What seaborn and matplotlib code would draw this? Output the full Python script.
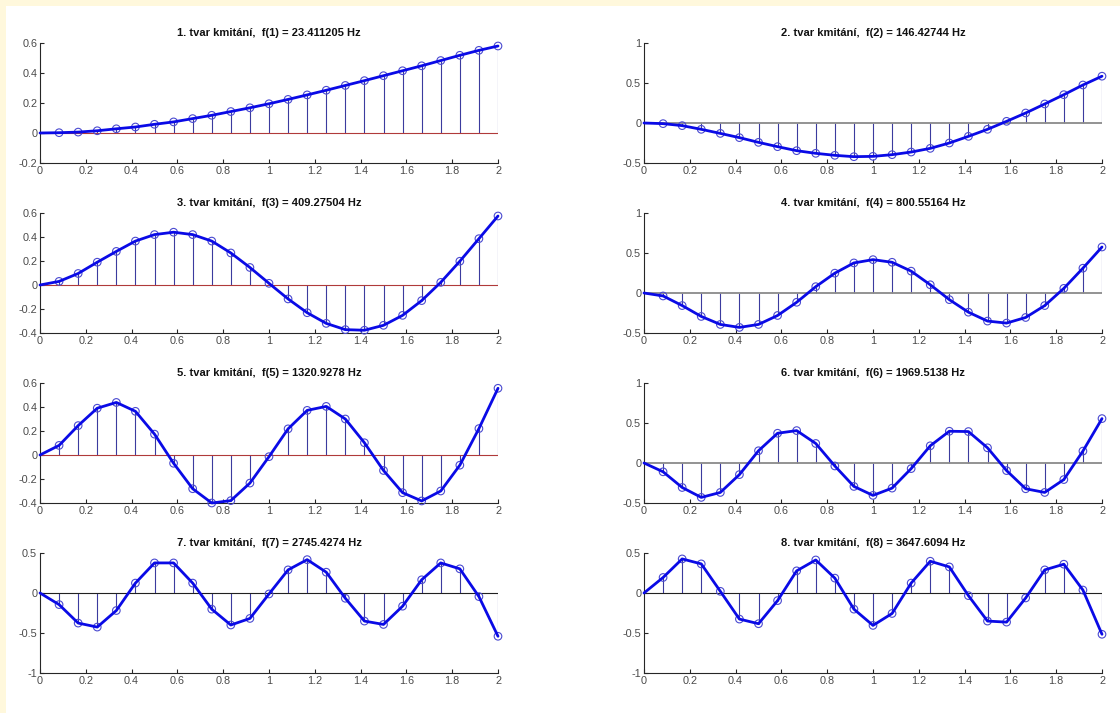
"""
Mode shapes of a cantilever beam (8 modes), drawn as stem plots
with the connecting polyline, laid out MATLAB-like in a 4x2 grid.
"""
import matplotlib.pyplot as plt
import pandas as pd
import seaborn as sns
from matplotlib.patches import Rectangle
from matplotlib.ticker import FuncFormatter, MultipleLocator

# node positions along the beam (m)
x_nodes = [0, 1 / 12, 2 / 12, 3 / 12, 4 / 12, 5 / 12, 6 / 12, 7 / 12, 8 / 12,
           9 / 12, 10 / 12, 11 / 12, 1, 13 / 12, 14 / 12, 15 / 12, 16 / 12,
           17 / 12, 18 / 12, 19 / 12, 20 / 12, 21 / 12, 22 / 12, 23 / 12, 2]

freqs = ["23.411205", "146.42744", "409.27504", "800.55164",
         "1320.9278", "1969.5138", "2745.4274", "3647.6094"]

mode1 = [0, 0.002, 0.006, 0.015, 0.028, 0.04, 0.058, 0.074, 0.096, 0.118,
         0.143, 0.168, 0.195, 0.224, 0.254, 0.285, 0.317, 0.349, 0.382,
         0.415, 0.448, 0.483, 0.518, 0.551, 0.58]
mode2 = [0, -0.008, -0.033, -0.079, -0.13, -0.183, -0.242, -0.296, -0.346,
         -0.379, -0.404, -0.421, -0.417, -0.396, -0.363, -0.317, -0.25,
         -0.167, -0.079, 0.021, 0.125, 0.238, 0.354, 0.475, 0.585]
mode3 = [0, 0.03, 0.096, 0.19, 0.28, 0.366, 0.42, 0.44, 0.42, 0.366, 0.267,
         0.146, 0.014, -0.116, -0.231, -0.32, -0.372, -0.377, -0.336,
         -0.253, -0.13, 0.022, 0.198, 0.386, 0.575]
mode4 = [0, -0.037, -0.157, -0.293, -0.393, -0.43, -0.393, -0.281, -0.116,
         0.079, 0.248, 0.376, 0.417, 0.384, 0.273, 0.103, -0.083, -0.24,
         -0.351, -0.376, -0.306, -0.157, 0.058, 0.31, 0.575]
mode5 = [0, 0.08, 0.245, 0.39, 0.438, 0.364, 0.174, -0.069, -0.281, -0.4,
         -0.38, -0.234, -0.014, 0.218, 0.372, 0.405, 0.3, 0.102, -0.129,
         -0.314, -0.383, -0.3, -0.085, 0.22, 0.556]
mode6 = [0, -0.11, -0.306, -0.43, -0.368, -0.145, 0.153, 0.372, 0.405, 0.244,
         -0.037, -0.293, -0.405, -0.314, -0.07, 0.215, 0.397, 0.393, 0.19,
         -0.095, -0.322, -0.368, -0.207, 0.149, 0.555]
mode7 = [0, -0.145, -0.376, -0.426, -0.219, 0.124, 0.376, 0.376, 0.124,
         -0.202, -0.4, -0.318, -0.012, 0.289, 0.417, 0.26, -0.066, -0.351,
         -0.393, -0.165, 0.165, 0.376, 0.302, -0.045, -0.541]
mode8 = [0, 0.194, 0.426, 0.364, 0.021, -0.326, -0.384, -0.095, 0.277, 0.413,
         0.186, -0.202, -0.405, -0.256, 0.124, 0.397, 0.326, -0.033, -0.351,
         -0.364, -0.062, 0.289, 0.36, 0.037, -0.516]

modes = [mode1, mode2, mode3, mode4, mode5, mode6, mode7, mode8]
y_limits = [(-0.2, 0.6), (-0.5, 1), (-0.4, 0.6), (-0.5, 1),
            (-0.4, 0.6), (-0.5, 1), (-1, 0.5), (-1, 0.5)]

# MATLAB-ish look
LINE_BLUE = "#0a0ae6"
STEM_BLUE = "#3b3b9e"
MARKER_BLUE = "#4a4ad0"
AXIS_GRAY = "#262626"
LABEL_GRAY = "#4a4a4a"
BASELINES = {
    "red": dict(color="#b03a3a", lw=0.8),
    "gray": dict(color="#8a8a8a", lw=1.3),
    "dark": dict(color="#202020", lw=0.8),
}
baseline_kind = ["red", "gray", "red", "gray", "red", "gray", "dark", "dark"]


def axes_rect(idx: int) -> list[float]:
    """Pixel-derived position of subplot idx (row-major, 4x2) in figure units."""
    W, H = 1120, 713
    row, col = divmod(idx, 2)
    left = 40 if col == 0 else 644
    top = 43 + 170 * row
    return [left / W, (H - top - 120) / H, 458 / W, 120 / H]


def draw_mode(ax: plt.Axes, k: int) -> None:
    """Stem plot plus polyline of one mode shape."""
    dataf = pd.DataFrame({"x": x_nodes, "y": modes[k]})
    free = dataf.iloc[1:]  # the clamped node carries no stem marker

    ax.vlines(free["x"], 0, free["y"], color=STEM_BLUE, lw=0.8, zorder=2)
    ax.axhline(0, zorder=2.5, **BASELINES[baseline_kind[k]])
    sns.scatterplot(
        data=free, x="x", y="y", ax=ax, marker="o", s=30,
        facecolor="none", edgecolor=MARKER_BLUE, linewidth=0.8, zorder=3,
        clip_on=False,
    )
    sns.lineplot(
        data=dataf, x="x", y="y", ax=ax, color=LINE_BLUE, lw=2.0,
        sort=False, zorder=4, clip_on=False,
    )

    ax.set_xlim(0, 2)
    ax.set_ylim(*y_limits[k])
    ax.xaxis.set_major_locator(MultipleLocator(0.2))
    span = y_limits[k][1] - y_limits[k][0]
    ax.yaxis.set_major_locator(MultipleLocator(0.5 if span > 1.2 else 0.2))
    fmt = FuncFormatter(lambda v, _: f"{v:g}" if abs(v) > 1e-9 else "0")
    ax.xaxis.set_major_formatter(fmt)
    ax.yaxis.set_major_formatter(fmt)
    ax.set_xlabel("")
    ax.set_ylabel("")
    ax.set_title(
        f"{k + 1}. tvar kmitání,  f({k + 1}) = {freqs[k]} Hz",
        fontsize=8, fontweight="bold", color="#111111", pad=5,
    )
    ax.tick_params(
        direction="in", length=3, width=0.8, color=AXIS_GRAY,
        labelcolor=LABEL_GRAY, labelsize=7.8, pad=2,
    )
    for side in ("left", "bottom"):
        ax.spines[side].set_color(AXIS_GRAY)
        ax.spines[side].set_linewidth(0.8)
    sns.despine(ax=ax)


if __name__ == "__main__":
    sns.set_theme(style="ticks")
    plt.rcParams["font.family"] = ["Liberation Sans", "DejaVu Sans"]

    fig = plt.figure(figsize=(11.2, 7.13), dpi=100, facecolor="white")

    # cream frame on the top and left edges of the screenshot
    cream = "#fff8dc"
    fig.patches.append(Rectangle((0, 1 - 6 / 713), 1, 6 / 713, transform=fig.transFigure,
                                 facecolor=cream, edgecolor="none", zorder=0))
    fig.patches.append(Rectangle((0, 0), 6 / 1120, 1, transform=fig.transFigure,
                                 facecolor=cream, edgecolor="none", zorder=0))

    for k in range(len(modes)):
        ax = fig.add_axes(axes_rect(k))
        draw_mode(ax, k)

    fig.savefig("out.png", dpi=100, facecolor=fig.get_facecolor())
